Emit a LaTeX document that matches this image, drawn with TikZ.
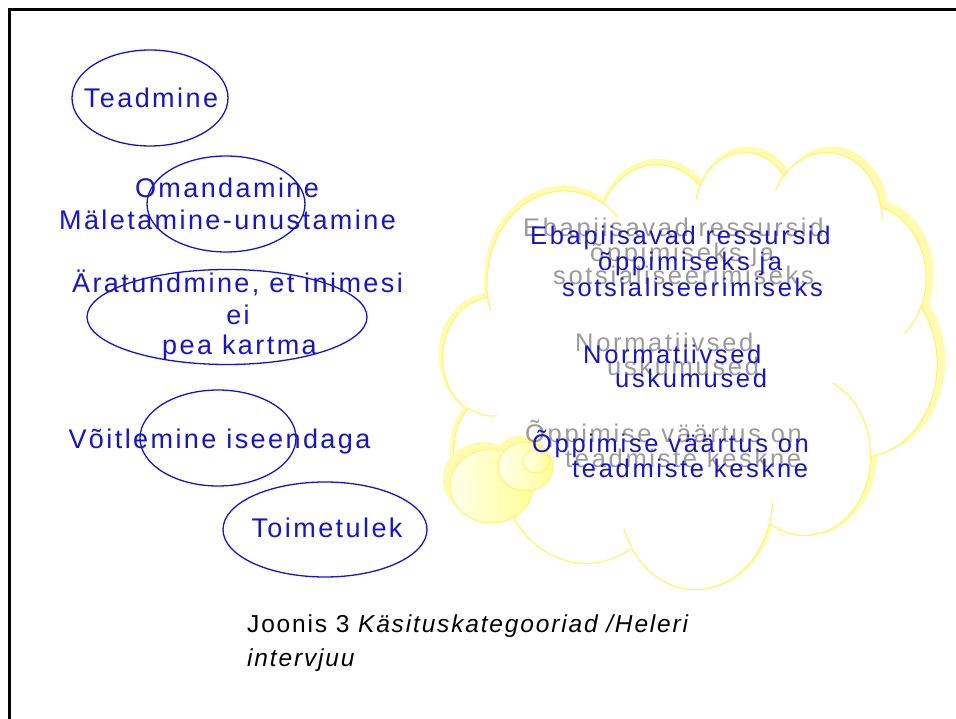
\documentclass[tikz,border=0pt]{standalone}
\usepackage{fontspec}
\setmainfont{Liberation Sans}
\newfontfamily\bluefont{Liberation Sans}[LetterSpace=9]
\newfontfamily\cloudfont{Liberation Sans}[LetterSpace=10.5]
\newfontfamily\capfont{Liberation Sans}[LetterSpace=7.5]
\usetikzlibrary{shapes.geometric}
\definecolor{txtblue}{RGB}{20,20,210}
\definecolor{shadowgray}{RGB}{155,155,155}
\definecolor{cloudline}{RGB}{255,245,110}
\definecolor{cloudshade}{RGB}{255,252,175}
\definecolor{bubblepale}{RGB}{255,255,235}
\definecolor{bubbleyel}{RGB}{255,255,150}

% DrawingML arcTo -> TikZ parametric arc
\newcommand\calcarc[4]{%
  \pgfmathsetmacro\cArcA{atan2((#1)*sin(#3),(#2)*cos(#3))-(#3)}%
  \pgfmathsetmacro\cArcA{(#3)+(\cArcA)-360*round((\cArcA)/360)}%
  \pgfmathsetmacro\cArcB{atan2((#1)*sin((#3)+(#4)),(#2)*cos((#3)+(#4)))-(#3)-(#4)}%
  \pgfmathsetmacro\cArcB{(#3)+(#4)+(\cArcB)-360*round((\cArcB)/360)}%
  \pgfmathsetmacro\cArcD{(\cArcB)-(\cArcA)}%
  \global\let\cTs\cArcA \global\let\cTd\cArcD}
\newcommand\carc[4]{\pgfextra{\calcarc{#1}{#2}{#3}{#4}} arc[start angle=\cTs, delta angle=\cTd, x radius=#1, y radius=#2]}

\newcommand\cloudouter{(39.00,143.70)
  \carc{67.53}{91.90}{-190.4875}{123.7805}
  \carc{53.33}{72.67}{-144.1024}{89.9452}
  \carc{43.65}{59.45}{-145.8079}{99.7230}
  \carc{48.57}{65.95}{-130.9861}{117.2417}
  \carc{53.33}{72.73}{-78.7089}{109.0269}
  \carc{67.75}{92.20}{-46.2673}{130.2690}
  \carc{57.85}{78.67}{0.6250}{114.0333}
  \carc{67.52}{92.15}{22.4516}{115.1726}
  \carc{77.20}{105.43}{66.2426}{75.7110}
  \carc{43.60}{59.18}{-274.9421}{146.7356}
  \carc{43.45}{59.45}{-246.8285}{152.5189} -- cycle}
\newcommand\cloudinner{
  (46.93,261.77) \carc{43.45}{59.45}{86.7420}{26.4295}
  (69.28,348.99) \carc{43.60}{59.18}{73.6105}{11.4475}
  (164.78,390.90) \carc{67.52}{92.15}{137.6242}{14.0811}
  (288.27,347.51) \carc{67.52}{92.15}{6.4533}{15.9984}
  (341.29,229.54) \carc{57.85}{78.67}{-70.2924}{70.9174}
  (417.98,153.54) \carc{53.33}{72.73}{30.3180}{27.7515}
  (383.24,54.26) \carc{48.57}{65.95}{-13.7443}{14.8589}
  (290.78,39.52) \carc{48.57}{65.95}{-149.1815}{18.1954}
  (221.41,47.20) \carc{43.65}{59.45}{-163.4943}{17.6864}
  (140.00,51.92) \carc{67.53}{91.90}{-66.7070}{12.3194}
  (41.27,157.89) \carc{67.53}{91.90}{157.6544}{11.8582}}

\tikzset{
  lbl/.style={font=\bluefont\fontsize{27}{30}\selectfont, text=txtblue, inner sep=0pt, anchor=base},
  lblw/.style={font=\cloudfont\fontsize{25.5}{29}\selectfont, text=txtblue, inner sep=0pt, anchor=base west},
  shd/.style={lblw, text=shadowgray},
  oval/.style={draw=txtblue, line width=1.3pt, ellipse, inner sep=0pt},
  capt/.style={font=\capfont\fontsize{24.5}{29}\selectfont, text=black, inner sep=0pt, anchor=base west},
  bubshadow/.style={ellipse, inner sep=0pt, fill=cloudshade},
  bubble/.style={ellipse, inner sep=0pt, draw=cloudline, line width=1pt, left color=bubblepale, right color=bubbleyel},
  frameline/.style={line width=3pt, black},
}

\begin{document}
\begin{tikzpicture}[x=1pt, y=1pt, yscale=-1]
\useasboundingbox (0,0) rectangle (956,719);
\fill[white] (0,0) rectangle (956,719);

% frame (only top and left edges fall in the picture)
\coordinate (fbl) at (9.5,719);
\coordinate (ftl) at (9.5,9.5);
\coordinate (ftr) at (956,9.5);
\draw[frameline] (fbl) -- (ftl) -- (ftr);

% left ellipses
\node[oval, minimum width=156pt, minimum height=96pt] (e1) at (150,98) {};
\node[oval, minimum width=158pt, minimum height=96pt] (e2) at (226,204) {};
\node[oval, minimum width=280pt, minimum height=95pt] (e3) at (227,317) {};
\node[oval, minimum width=156pt, minimum height=96pt] (e4) at (218,438) {};
\node[oval, minimum width=204pt, minimum height=95pt] (e5) at (325,529.5) {};

% left texts
\node[lbl] (t1) at (151,108) {Teadmine};
\node[lbl] (t2a) at (227,198) {Omandamine};
\node[lbl] (t2b) at (227.5,230) {Mäletamine-unustamine};
\node[lbl] (t3a) at (237.5,293) {Äratundmine, et inimesi};
\node[lbl] (t3b) at (238,325) {ei};
\node[lbl] (t3c) at (239.5,355) {pea kartma};
\node[lbl] (t4) at (219.5,448) {Võitlemine iseendaga};
\node[lbl] (t5) at (327,537) {Toimetulek};

% cloud shadow
\begin{scope}[shift={(439,145)}, xscale=506/432, yscale=443/432]
  \fill[cloudshade] \cloudouter;
\end{scope}
% cloud
\begin{scope}[shift={(443,151)}, xscale=494/432, yscale=437/432]
  \filldraw[fill=white, draw=cloudline, line width=1.2pt] \cloudouter;
  \draw[cloudline, line width=1.2pt] \cloudinner;
\end{scope}

% thought bubbles
\node[bubshadow, minimum width=83pt, minimum height=74pt] (bs1) at (484,479) {};
\node[bubshadow, minimum width=55pt, minimum height=49pt] (bs2) at (521,460) {};
\node[bubble, minimum width=83pt, minimum height=74pt] (b1) at (491.5,486) {};
\node[bubble, minimum width=55pt, minimum height=49pt] (b2) at (525.5,466.5) {};
\node[bubble, minimum width=27pt, minimum height=23pt] (b3) at (536.5,461.5) {};

% grey shadow texts
\node[shd] (g1a) at (523,237) {Ebapiisavad ressursid};
\node[shd] (g1b) at (590,262) {õppimiseks ja};
\node[shd] (g1c) at (553,285) {sotsialiseerimiseks};
\node[shd] (g2a) at (575,352) {Normatiivsed};
\node[shd] (g2b) at (607,375) {uskumused};
\node[shd] (g3a) at (525,442) {Õppimise väärtus on};
\node[shd] (g3b) at (565,467) {teadmiste keskne};

% blue cloud texts
\node[lblw] (c1a) at (530,245) {Ebapiisavad ressursid};
\node[lblw] (c1b) at (598,271) {õppimiseks ja};
\node[lblw] (c1c) at (562,297) {sotsialiseerimiseks};
\node[lblw] (c2a) at (583,363) {Normatiivsed};
\node[lblw] (c2b) at (615,388) {uskumused};
\node[lblw] (c3a) at (532,452) {Õppimise väärtus on};
\node[lblw] (c3b) at (572,477) {teadmiste keskne};

% caption
\node[capt] (cap1) at (247,632) {Joonis 3 \textit{Käsituskategooriad /Heleri}};
\node[capt] (cap2) at (247,666) {\textit{intervjuu}};
\end{tikzpicture}
\end{document}
